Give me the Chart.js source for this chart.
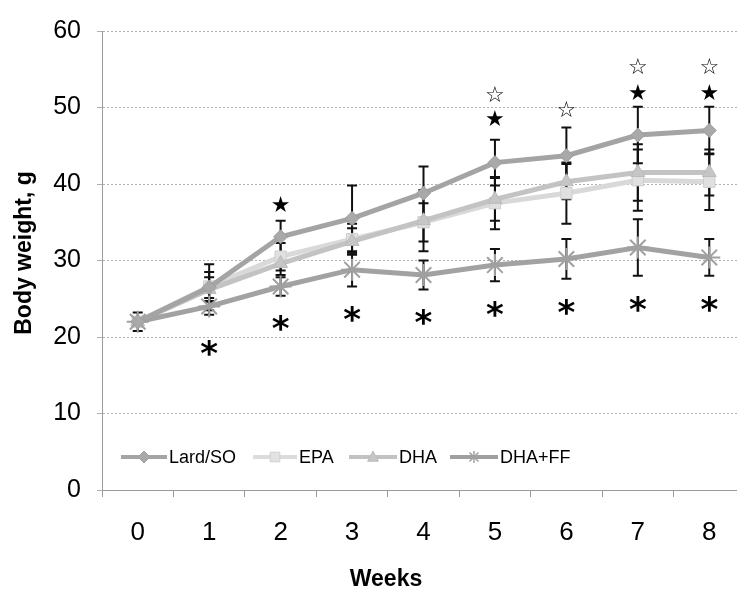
<!DOCTYPE html>
<html>
<head>
<meta charset="utf-8">
<script src="https://cdn.jsdelivr.net/npm/chart.js@4/dist/chart.umd.min.js"></script>
<style>
  html, body { margin: 0; padding: 0; background: #fff; overflow: hidden; }
  #wrap { width: 758px; height: 592px; }
</style>
</head>
<body>
<div id="wrap"><canvas id="c" width="758" height="592"></canvas></div>
<script>
// Weekly body weight by diet group (mean and SD, grams)
const weeks = ['0', '1', '2', '3', '4', '5', '6', '7', '8'];

const lardSO    = [22.0, 26.5, 33.1, 35.5, 38.8, 42.8, 43.7, 46.4, 47.0];
const lardSOErr = [0.5, 3.0, 2.1, 4.3, 3.5, 3.0, 3.7, 3.7, 3.1];

const epa    = [22.0, 26.6, 30.5, 32.8, 35.0, 37.5, 38.8, 40.5, 40.3];
const epaErr = [0.5, 1.9, 1.8, 2.0, 2.5, 3.4, 4.0, 4.0, 3.7];

const dha    = [22.0, 26.2, 29.6, 32.5, 35.2, 38.0, 40.3, 41.5, 41.5];
const dhaErr = [0.5, 1.6, 1.5, 1.7, 4.0, 2.8, 2.3, 3.7, 3.0];

const dhaFF    = [22.0, 24.0, 26.6, 28.8, 28.1, 29.4, 30.2, 31.7, 30.4];
const dhaFFErr = [1.2, 1.1, 1.2, 2.2, 1.9, 2.1, 2.6, 3.7, 2.4];

// Significance marks, placed at these body-weight levels
const asteriskAt   = [null, 18.5, 21.8, 23.0, 22.6, 23.7, 23.9, 24.3, 24.3];
const filledStarAt = [null, null, 37.3, null, null, 48.5, null, 52.0, 52.0];
const openStarAt   = [null, null, null, null, null, 51.7, 49.8, 55.3, 55.3];

const yTicks = [0, 10, 20, 30, 40, 50, 60];

const errors = [lardSOErr, epaErr, dhaErr, dhaFFErr];

// Draw a marker shape at (x, y)
function marker(ctx, style, x, y, r, fill, stroke, lw) {
  ctx.save();
  ctx.fillStyle = fill; ctx.strokeStyle = stroke; ctx.lineWidth = lw;
  ctx.beginPath();
  if (style === 'rectRot') {
    ctx.moveTo(x, y - r); ctx.lineTo(x + r, y); ctx.lineTo(x, y + r); ctx.lineTo(x - r, y); ctx.closePath();
    ctx.fill(); ctx.stroke();
  } else if (style === 'rect') {
    ctx.rect(x - r * 0.8, y - r * 0.8, r * 1.6, r * 1.6); ctx.fill(); ctx.stroke();
  } else if (style === 'triangle') {
    ctx.moveTo(x, y - r); ctx.lineTo(x + r * 0.9, y + r * 0.7); ctx.lineTo(x - r * 0.9, y + r * 0.7); ctx.closePath();
    ctx.fill(); ctx.stroke();
  } else if (style === 'star') {
    const d = r * 0.75;
    ctx.moveTo(x - d, y - d); ctx.lineTo(x + d, y + d);
    ctx.moveTo(x + d, y - d); ctx.lineTo(x - d, y + d);
    ctx.moveTo(x, y - r); ctx.lineTo(x, y + r);
    ctx.stroke();
  }
  ctx.restore();
}

const errorBars = {
  id: 'errorBars',
  beforeDatasetsDraw(chart) {
    const ctx = chart.ctx, ys = chart.scales.y;
    ctx.save();
    ctx.strokeStyle = '#111'; ctx.lineWidth = 2;
    chart.data.datasets.forEach((ds, i) => {
      const meta = chart.getDatasetMeta(i);
      meta.data.forEach((pt, j) => {
        const e = errors[i][j];
        const v = ds.data[j];
        const top = ys.getPixelForValue(v + e), bot = ys.getPixelForValue(v - e);
        const x = pt.x;
        ctx.beginPath();
        ctx.moveTo(x, top); ctx.lineTo(x, bot);
        ctx.moveTo(x - 5, top); ctx.lineTo(x + 5, top);
        ctx.moveTo(x - 5, bot); ctx.lineTo(x + 5, bot);
        ctx.stroke();
      });
    });
    ctx.restore();
  }
};

const sigMarks = {
  id: 'sigMarks',
  afterDatasetsDraw(chart) {
    const ctx = chart.ctx, xs = chart.scales.x, ys = chart.scales.y;
    ctx.save();
    ctx.fillStyle = '#000';
    ctx.textAlign = 'center';
    ctx.textBaseline = 'alphabetic';
    const put = (arr, txt, font) => {
      ctx.font = font;
      const m = ctx.measureText(txt);
      const off = (m.actualBoundingBoxAscent - m.actualBoundingBoxDescent) / 2;
      arr.forEach((v, j) => {
        if (v == null) return;
        ctx.fillText(txt, xs.getPixelForValue(j), ys.getPixelForValue(v) + off);
      });
    };
    put(asteriskAt, '*', 'bold 34px "DejaVu Sans"');
    put(filledStarAt, '★', '22px "DejaVu Sans"');
    put(openStarAt, '☆', '22px "DejaVu Sans"');
    ctx.restore();
  }
};

const legendItems = [
  { label: 'Lard/SO', x1: 121, x2: 167, tx: 169, color: '#a4a4a4', style: 'rectRot', fill: '#a9a9a9', stroke: '#a0a0a0' },
  { label: 'EPA',     x1: 253, x2: 297, tx: 299, color: '#dcdcdc', style: 'rect', fill: '#e2e2e2', stroke: '#d0d0d0' },
  { label: 'DHA',     x1: 349, x2: 397, tx: 399, color: '#c2c2c2', style: 'triangle', fill: '#c6c6c6', stroke: '#bcbcbc' },
  { label: 'DHA+FF',  x1: 450, x2: 498, tx: 500, color: '#a0a0a0', style: 'star', fill: '#a0a0a0', stroke: '#a0a0a0' }
];

const innerLegend = {
  id: 'innerLegend',
  afterDatasetsDraw(chart) {
    const ctx = chart.ctx;
    const y = 457;
    ctx.save();
    ctx.font = '18px "Liberation Sans", Arial, sans-serif';
    ctx.textBaseline = 'middle';
    ctx.textAlign = 'left';
    legendItems.forEach(it => {
      ctx.strokeStyle = it.color; ctx.lineWidth = 4;
      ctx.beginPath(); ctx.moveTo(it.x1, y); ctx.lineTo(it.x2, y); ctx.stroke();
      marker(ctx, it.style, (it.x1 + it.x2) / 2, y, 6, it.fill, it.stroke, it.style === 'star' ? 1.5 : 1);
      ctx.fillStyle = '#000';
      ctx.fillText(it.label, it.tx, y + 1);
    });
    ctx.restore();
  }
};

const axisTitles = {
  id: 'axisTitles',
  afterDraw(chart) {
    const ctx = chart.ctx;
    ctx.save();
    ctx.fillStyle = '#000';
    ctx.font = 'bold 23px "Liberation Sans", Arial, sans-serif';
    ctx.textAlign = 'center'; ctx.textBaseline = 'middle';
    ctx.fillText('Weeks', 386, 580);
    ctx.translate(25, 253);
    ctx.rotate(-Math.PI / 2);
    ctx.fillText('Body weight, g', 0, 0);
    ctx.restore();
  }
};

function drawSeriesMarker(style, fill, stroke, lw) {
  return { pointStyle: style, pointBackgroundColor: fill, pointBorderColor: stroke, pointBorderWidth: lw };
}

new Chart(document.getElementById('c'), {
  type: 'line',
  data: {
    labels: weeks,
    datasets: [
      Object.assign({ label: 'Lard/SO', data: lardSO, borderColor: '#a4a4a4', borderWidth: 5, pointRadius: 7, order: 1 },
        drawSeriesMarker('rectRot', '#a9a9a9', '#9e9e9e', 1)),
      Object.assign({ label: 'EPA', data: epa, borderColor: '#d9d9d9', borderWidth: 5, pointRadius: 8, order: 4 },
        drawSeriesMarker('rect', '#e0e0e0', '#cecece', 1)),
      Object.assign({ label: 'DHA', data: dha, borderColor: '#c3c3c3', borderWidth: 5, pointRadius: 8, order: 3 },
        drawSeriesMarker('triangle', '#c6c6c6', '#bababa', 1)),
      Object.assign({ label: 'DHA+FF', data: dhaFF, borderColor: '#a2a2a2', borderWidth: 5, pointRadius: 11, order: 2 },
        drawSeriesMarker('star', '#a0a0a0', '#a0a0a0', 2))
    ]
  },
  options: {
    responsive: false,
    animation: false,
    layout: { padding: { top: 25, right: 0, bottom: 0, left: 0 } },
    plugins: { legend: { display: false }, tooltip: { enabled: false } },
    scales: {
      x: {
        offset: true,
        afterFit(s) { s.height = 102; },
        grid: { offset: true, drawOnChartArea: false, drawTicks: true, tickLength: 7, color: '#9a9a9a' },
        border: { display: true, color: '#9a9a9a', width: 1, dash: [2, 2] },
        ticks: { color: '#000', padding: 20, font: { family: '"Liberation Sans Narrow", "Liberation Sans", Arial', size: 26 } }
      },
      y: {
        min: 0, max: 60,
        afterFit(s) { s.width = 102; },
        afterBuildTicks(s) { s.ticks = yTicks.map(v => ({ value: v })); },
        grid: { color: '#b0b0b0', lineWidth: 1, tickLength: 5, drawTicks: true },
        border: { display: true, color: '#9a9a9a', width: 1, dash: [2, 2] },
        ticks: { color: '#000', padding: 16, font: { family: '"Liberation Sans", Arial', size: 25 } }
      }
    }
  },
  plugins: [errorBars, sigMarks, innerLegend, axisTitles]
});
</script>
</body>
</html>
